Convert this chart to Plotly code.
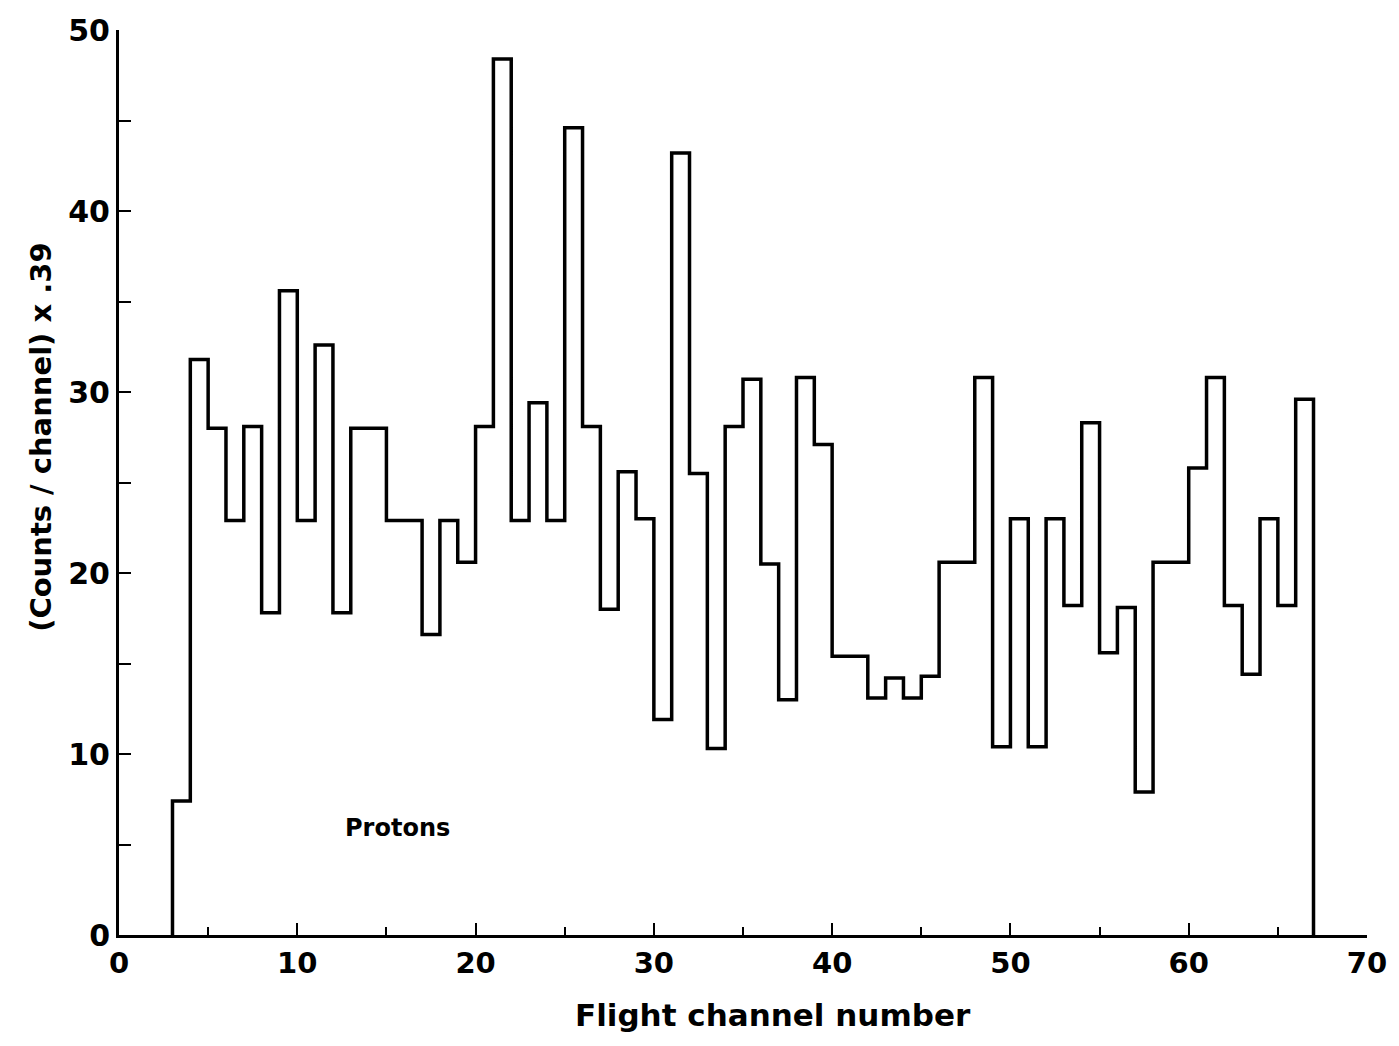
import plotly.graph_objects as go

# Histogram data: flight channel bins (left edges) and counts/channel x .39
channels = list(range(3, 67))
values = [7.4, 31.8, 28.0, 22.9, 28.1, 17.8, 35.6, 22.9, 32.6, 17.8,
          28.0, 28.0, 22.9, 22.9, 16.6, 22.9, 20.6, 28.1, 48.4, 22.9,
          29.4, 22.9, 44.6, 28.1, 18.0, 25.6, 23.0, 11.9, 43.2, 25.5,
          10.3, 28.1, 30.7, 20.5, 13.0, 30.8, 27.1, 15.4, 15.4, 13.1,
          14.2, 13.1, 14.3, 20.6, 20.6, 30.8, 10.4, 23.0, 10.4, 23.0,
          18.2, 28.3, 15.6, 18.1, 7.9, 20.6, 20.6, 25.8, 30.8, 18.2,
          14.4, 23.0, 18.2, 29.6]
bin_width = 1
x_ticks = [0, 10, 20, 30, 40, 50, 60, 70]
y_ticks = [0, 10, 20, 30, 40, 50]

# step outline
xs = [channels[0]] + channels + [channels[-1] + bin_width, channels[-1] + bin_width]
ys = [0] + values + [values[-1], 0]

font = "DejaVu Sans, sans-serif"

fig = go.Figure()
fig.add_trace(go.Scatter(x=xs, y=ys, mode="lines", line_shape="hv",
                         line=dict(color="black", width=3.5), showlegend=False))

fig.update_layout(
    width=1399, height=1046,
    margin=dict(l=119, r=24, t=22, b=111),
    paper_bgcolor="white", plot_bgcolor="white",
    xaxis=dict(range=[0, 70], tickvals=x_ticks, ticktext=[str(v) for v in x_ticks],
               showgrid=False, zeroline=False, showline=True, linecolor="black", linewidth=3,
               ticks="inside", ticklen=12, tickwidth=2, tickcolor="black",
               minor=dict(dtick=5, ticks="inside", ticklen=8, tickwidth=2, tickcolor="black"),
               tickfont=dict(family=font, size=29, color="black", weight="bold")),
    yaxis=dict(range=[0, 50], tickvals=y_ticks, ticktext=[str(v) for v in y_ticks],
               showgrid=False, zeroline=False, showline=True, linecolor="black", linewidth=3,
               ticks="inside", ticklen=12, tickwidth=2, tickcolor="black",
               minor=dict(dtick=5, ticks="inside", ticklen=12, tickwidth=2, tickcolor="black"),
               tickfont=dict(family=font, size=30, color="black", weight="bold")),
    annotations=[
        dict(text="Flight channel number", xref="paper", yref="paper", x=0.524, y=-0.088,
             xanchor="center", yanchor="middle", showarrow=False,
             font=dict(family=font, size=31, color="black", weight="bold")),
        dict(text="(Counts / channel) x .39", xref="paper", yref="paper", x=-0.062, y=0.55,
             xanchor="center", yanchor="middle", textangle=-90, showarrow=False,
             font=dict(family=font, size=29, color="black", weight="bold")),
        dict(text="Protons", xref="x", yref="y", x=15.6, y=5.9, showarrow=False,
             xanchor="center", yanchor="middle",
             font=dict(family=font, size=24, color="black", weight="bold")),
    ],
)

fig.write_html("out.html")
